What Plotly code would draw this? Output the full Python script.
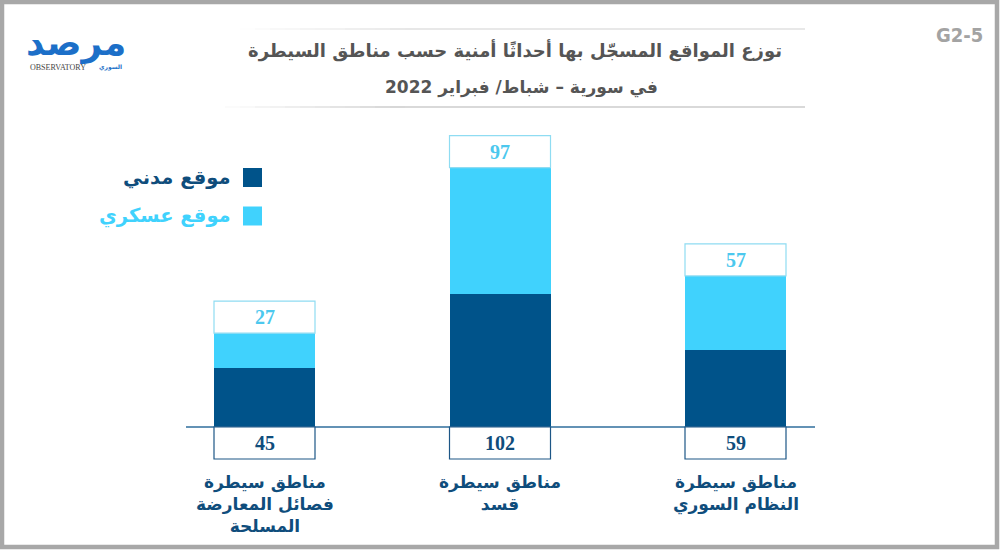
import plotly.graph_objects as go

# ---------------- data ----------------
categories = ["مناطق سيطرة<br>فصائل المعارضة<br>المسلحة",
              "مناطق سيطرة<br>قسد",
              "مناطق سيطرة<br>النظام السوري"]
civilian = [45, 102, 59]
military = [27, 97, 57]
series_names = ["موقع مدني", "موقع عسكري"]
title_line1 = "توزع المواقع المسجّل بها أحداثًا أمنية حسب مناطق السيطرة"
title_line2 = "في سورية – شباط/ فبراير 2022"
code_label = "G2-5"

# ---------------- style ----------------
W, H = 1001, 551
DARK = "#00538a"
LIGHT = "#40d2fd"
DARK_TXT = "#0f4d7c"
LIGHT_TXT = "#4cc8ee"
GRAY = "#a8a8a8"
AR_FONT = "DejaVu Sans"

px_per_unit = 1.303
base_px = 427
x_first_px, x_step_px = 264.5, 235.5
bar_w = 101 / x_step_px
box_h = 32 / px_per_unit

x_range = [-x_first_px / x_step_px, -x_first_px / x_step_px + W / x_step_px]
y_range = [-(H - base_px) / px_per_unit, base_px / px_per_unit]

def px(x):
    return x / W

def py(y):
    return 1 - y / H

xs = list(range(len(categories)))
totals = [c + m for c, m in zip(civilian, military)]

fig = go.Figure()
fig.add_trace(go.Bar(x=xs, y=civilian, name=series_names[0], width=bar_w,
                     marker=dict(color=DARK, line=dict(width=0)),
                     showlegend=False, hoverinfo="skip"))
fig.add_trace(go.Bar(x=xs, y=military, name=series_names[1], width=bar_w,
                     marker=dict(color=LIGHT, line=dict(width=0)),
                     showlegend=False, hoverinfo="skip"))

shapes = []
annotations = []

def note(x, y, text, font, xref="paper", yref="paper", xanchor="center", yanchor="middle", **kw):
    annotations.append(dict(x=x, y=y, xref=xref, yref=yref, text=text, showarrow=False,
                            xanchor=xanchor, yanchor=yanchor, font=font, **kw))

# frame
shapes.append(dict(type="rect", xref="paper", yref="paper",
                   x0=px(2), x1=px(997), y0=py(547), y1=py(2),
                   line=dict(color=GRAY, width=4.5), fillcolor="rgba(0,0,0,0)", layer="above"))

# title lines with fading left end
def fade_line(y, xa, xb, fade_len, color_rgb=(200, 200, 200)):
    n = 12
    seg = fade_len / n
    for k in range(n):
        a = (k + 1) / n
        shapes.append(dict(type="line", xref="paper", yref="paper",
                           x0=px(xa + k * seg), x1=px(xa + (k + 1) * seg), y0=py(y), y1=py(y),
                           line=dict(color="rgba(%d,%d,%d,%.2f)" % (*color_rgb, a), width=1.6)))
    shapes.append(dict(type="line", xref="paper", yref="paper",
                       x0=px(xa + fade_len), x1=px(xb), y0=py(y), y1=py(y),
                       line=dict(color="rgb(%d,%d,%d)" % color_rgb, width=1.6)))

fade_line(29, 240, 805, 180, (225, 225, 225))
fade_line(107, 225, 805, 180, (205, 205, 205))

# baseline
shapes.append(dict(type="line", xref="x", yref="y",
                   x0=(186 - x_first_px) / x_step_px, x1=(815 - x_first_px) / x_step_px,
                   y0=0, y1=0, line=dict(color="#2f6e9c", width=1.5)))

for i, (c, m, t) in enumerate(zip(civilian, military, totals)):
    # top box (military value)
    shapes.append(dict(type="rect", xref="x", yref="y",
                       x0=i - bar_w / 2, x1=i + bar_w / 2, y0=t, y1=t + box_h,
                       line=dict(color="#8fdcf2", width=1.2), fillcolor="white"))
    note(i, t + box_h / 2, "<b>%d</b>" % m,
         dict(family="Liberation Serif", size=20, color=LIGHT_TXT), xref="x", yref="y")
    # bottom box (civilian value)
    shapes.append(dict(type="rect", xref="x", yref="y",
                       x0=i - bar_w / 2, x1=i + bar_w / 2, y0=0, y1=-box_h,
                       line=dict(color="#1d5686", width=1.2), fillcolor="white"))
    note(i, -box_h / 2, "<b>%d</b>" % c,
         dict(family="Liberation Serif", size=20, color=DARK_TXT), xref="x", yref="y")
    # category label
    note(i, py(470), "<b>%s</b>" % categories[i],
         dict(family=AR_FONT, size=17, color=DARK_TXT), xref="x", yanchor="top", align="center")

# legend
for name, col, tcol, yc in [(series_names[0], DARK, DARK_TXT, 177.5),
                            (series_names[1], LIGHT, LIGHT, 216)]:
    shapes.append(dict(type="rect", xref="paper", yref="paper",
                       x0=px(243), x1=px(262), y0=py(yc + 9.5), y1=py(yc - 9.5),
                       line=dict(width=0), fillcolor=col))
    note(px(233), py(yc), "<b>%s</b>" % name, dict(family=AR_FONT, size=19.5, color=tcol),
         xanchor="right")

# titles
note(px(515), py(50), "<b>%s</b>" % title_line1, dict(family=AR_FONT, size=18, color="#555555"))
note(px(521), py(87), "<b>%s</b>" % title_line2, dict(family=AR_FONT, size=17, color="#555555"))

# code label
note(px(959), py(35), "<b>%s</b>" % code_label,
     dict(family="DejaVu Sans Condensed", size=20, color="#a3a3a3"))

# logo
note(px(76), py(43), "<b>مرصد</b>", dict(family=AR_FONT, size=36, color="#1c6fc8"))
note(px(58), py(68), "OBSERVATORY", dict(family="Liberation Serif", size=8, color="#444444"))
note(px(110), py(67), "<b>السوري</b>", dict(family=AR_FONT, size=6, color="#1c6fc8"))

fig.update_layout(
    width=W, height=H, margin=dict(l=0, r=0, t=0, b=0),
    paper_bgcolor="white", plot_bgcolor="white",
    barmode="stack", bargap=0,
    xaxis=dict(visible=False, range=x_range, fixedrange=True),
    yaxis=dict(visible=False, range=y_range, fixedrange=True),
    shapes=shapes, annotations=annotations,
    showlegend=False,
)

fig.write_html("out.html", config={"displayModeBar": False},
               post_script="document.body.style.margin='0';document.body.style.overflow='hidden';")
